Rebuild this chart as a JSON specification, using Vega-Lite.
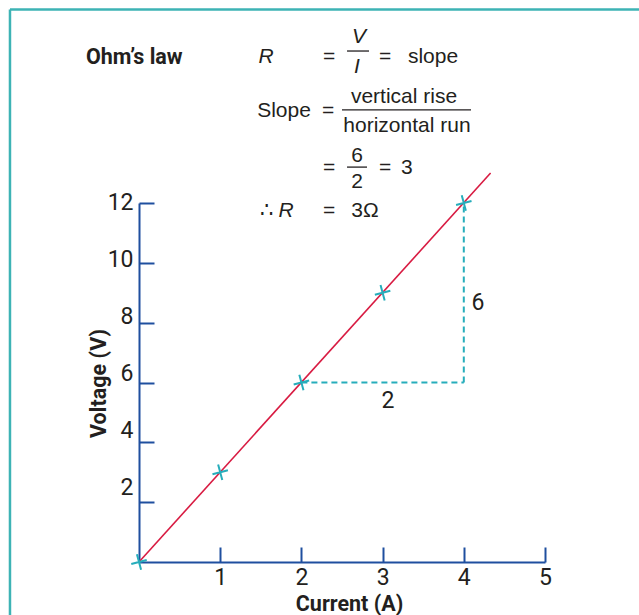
{
  "$schema": "https://vega.github.io/schema/vega-lite/v6.json",
  "width": 406,
  "height": 359,
  "autosize": {"type": "none"},
  "padding": {"left": 139, "top": 203, "right": 94, "bottom": 53},
  "background": "white",
  "config": {"view": {"stroke": null}},
  "datasets": {
    "frame": [
      {"x": -1.589, "x2": 6.5, "y": 18.47, "y2": 18.47},
      {"x": -1.589, "x2": -1.589, "y": 18.47, "y2": -3}
    ],
    "line": [
      {"x": 0, "y": 0},
      {"x": 4.33, "y": 13}
    ],
    "points": [
      {"x": 0, "y": 0},
      {"x": 1, "y": 3},
      {"x": 2, "y": 6},
      {"x": 3, "y": 9},
      {"x": 4, "y": 12}
    ],
    "dash": [
      {"x": 2, "x2": 4, "y": 6, "y2": 6},
      {"x": 4, "x2": 4, "y": 6, "y2": 12}
    ],
    "bars": [
      {"x": 2.562, "x2": 2.833, "y": 17.08},
      {"x": 2.5, "x2": 4.089, "y": 15.11},
      {"x": 2.562, "x2": 2.808, "y": 13.2}
    ],
    "regular": [
      {"t": "=", "x": 2.34, "y": 16.68},
      {"t": "=", "x": 3.03, "y": 16.68},
      {"t": "slope", "x": 3.621, "y": 16.68},
      {"t": "Slope", "x": 1.786, "y": 14.87},
      {"t": "=", "x": 2.328, "y": 14.87},
      {"t": "vertical rise", "x": 3.264, "y": 15.34},
      {"t": "horizontal run", "x": 3.3, "y": 14.37},
      {"t": "=", "x": 2.34, "y": 12.97},
      {"t": "6", "x": 2.685, "y": 13.37},
      {"t": "2", "x": 2.685, "y": 12.5},
      {"t": "=", "x": 3.03, "y": 12.97},
      {"t": "3", "x": 3.3, "y": 12.97},
      {"t": "∴", "x": 1.576, "y": 11.53},
      {"t": "=", "x": 2.34, "y": 11.53},
      {"t": "3Ω", "x": 2.783, "y": 11.53}
    ],
    "italic": [
      {"t": "R", "x": 1.564, "y": 16.68},
      {"t": "V", "x": 2.709, "y": 17.35},
      {"t": "I", "x": 2.685, "y": 16.34},
      {"t": "R", "x": 1.81, "y": 11.53}
    ],
    "bold": [
      {"t": "Ohm’s law", "x": -0.653, "y": 16.64}
    ],
    "marks": [
      {"t": "6", "x": 4.175, "y": 8.42},
      {"t": "2", "x": 3.067, "y": 5.15}
    ]
  },
  "encoding": {
    "x": {
      "field": "x", "type": "quantitative",
      "scale": {"domain": [0, 5], "nice": false, "zero": false},
      "axis": {
        "values": [1, 2, 3, 4, 5],
        "grid": false,
        "labelFlush": false,
        "domainColor": "#1f4f9f", "domainWidth": 2,
        "tickColor": "#1f4f9f", "tickWidth": 2, "tickSize": -15,
        "labelFont": "Roboto", "labelFontSize": 23, "labelColor": "#231f20", "labelPadding": 19,
        "title": "Current (A)", "titleFont": "Roboto", "titleFontWeight": "bold", "titleFontSize": 21.5, "titleColor": "#231f20",
        "titleX": 210, "titleY": 48, "titleBaseline": "alphabetic", "titleAlign": "center"
      }
    },
    "y": {
      "field": "y", "type": "quantitative",
      "scale": {"domain": [0, 12], "nice": false, "zero": false},
      "axis": {
        "values": [2, 4, 6, 8, 10, 12],
        "grid": false,
        "labelFlush": false,
        "domainColor": "#1f4f9f", "domainWidth": 2,
        "tickColor": "#1f4f9f", "tickWidth": 2, "tickSize": -15,
        "labelFont": "Roboto", "labelFontSize": 23, "labelColor": "#231f20", "labelPadding": 21,
        "labelOffset": {"expr": "-1.4*(12-datum.value)-1"},
        "title": "Voltage (V)", "titleFont": "Roboto", "titleFontWeight": "bold", "titleFontSize": 21.5, "titleColor": "#231f20",
        "titleX": -34, "titleY": 180, "titleAngle": -90, "titleBaseline": "alphabetic", "titleAlign": "center"
      }
    }
  },
  "layer": [
    {
      "data": {"name": "frame"},
      "mark": {"type": "rule", "color": "#3db3b5", "strokeWidth": 2.5, "clip": false},
      "encoding": {"x2": {"field": "x2"}, "y2": {"field": "y2"}}
    },
    {
      "data": {"name": "dash"},
      "mark": {"type": "rule", "color": "#26adbb", "strokeWidth": 2, "strokeDash": [6, 4]},
      "encoding": {"x2": {"field": "x2"}, "y2": {"field": "y2"}}
    },
    {
      "data": {"name": "bars"},
      "mark": {"type": "rule", "color": "#231f20", "strokeWidth": 1.3},
      "encoding": {"x2": {"field": "x2"}}
    },
    {
      "data": {"name": "regular"},
      "mark": {"type": "text", "font": "Liberation Sans", "fontSize": 21, "color": "#231f20", "align": "center", "baseline": "alphabetic"},
      "encoding": {"text": {"field": "t"}}
    },
    {
      "data": {"name": "italic"},
      "mark": {"type": "text", "font": "Liberation Sans", "fontStyle": "italic", "fontSize": 21, "color": "#231f20", "align": "center", "baseline": "alphabetic"},
      "encoding": {"text": {"field": "t"}}
    },
    {
      "data": {"name": "bold"},
      "mark": {"type": "text", "font": "Roboto", "fontWeight": "bold", "fontSize": 21.5, "color": "#231f20", "align": "left", "baseline": "alphabetic"},
      "encoding": {"text": {"field": "t"}}
    },
    {
      "data": {"name": "marks"},
      "mark": {"type": "text", "font": "Roboto", "fontSize": 23, "color": "#231f20", "align": "center", "baseline": "alphabetic"},
      "encoding": {"text": {"field": "t"}}
    },
    {
      "data": {"name": "line"},
      "mark": {"type": "line", "color": "#d81b42", "strokeWidth": 1.6}
    },
    {
      "data": {"name": "points"},
      "mark": {"type": "point", "shape": "M-1,0L1,0M0,-1L0,1", "size": 256, "angle": -15, "filled": false, "stroke": "#26adbb", "strokeWidth": 2, "opacity": 1}
    }
  ]
}
